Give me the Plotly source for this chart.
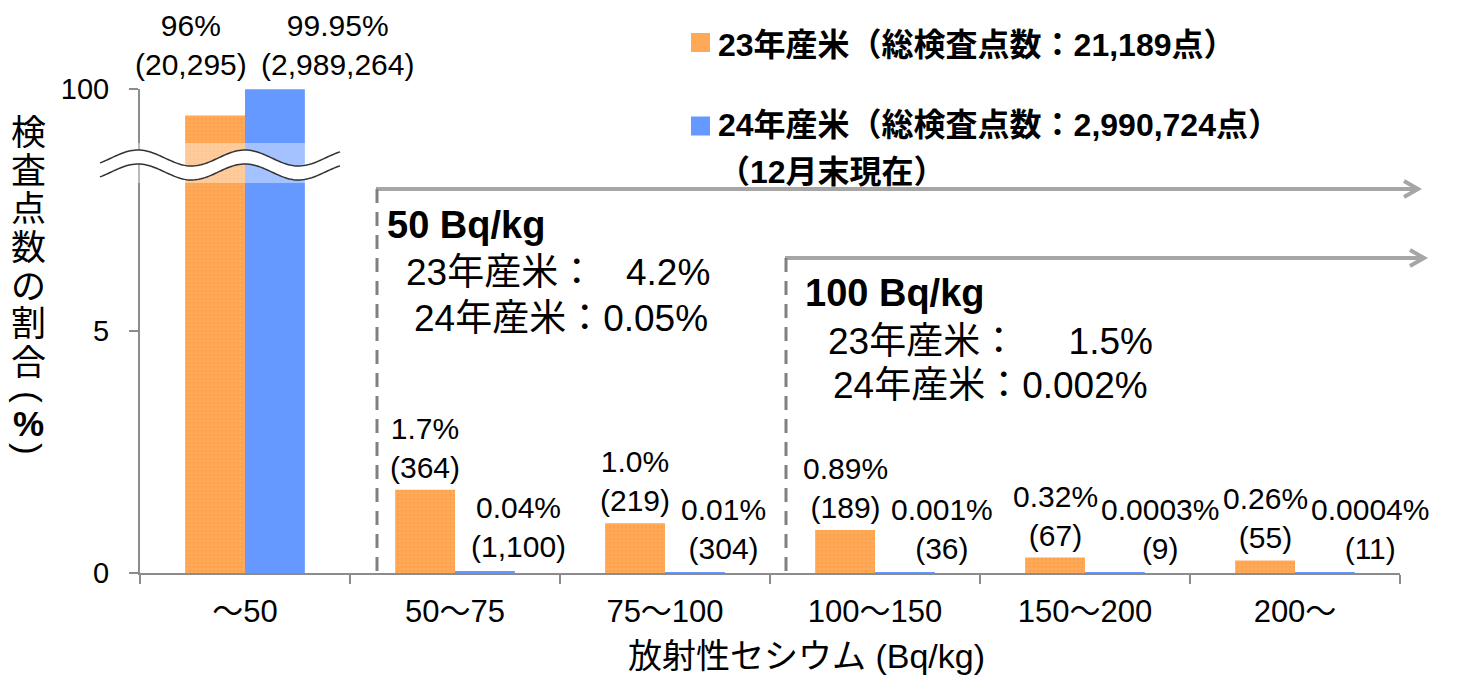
import numpy as np
import plotly.graph_objects as go

# ---------------- data ----------------
categories = ["～50", "50～75", "75～100", "100～150", "150～200", "200～"]
rice23_pct = [95.8, 1.72, 1.03, 0.89, 0.32, 0.26]
rice24_pct = [99.95, 0.04, 0.01, 0.001, 0.0003, 0.0004]
rice23_text = ["96%", "1.7%", "1.0%", "0.89%", "0.32%", "0.26%"]
rice23_counts = ["20,295", "364", "219", "189", "67", "55"]
rice24_text = ["99.95%", "0.04%", "0.01%", "0.001%", "0.0003%", "0.0004%"]
rice24_counts = ["2,989,264", "1,100", "304", "36", "9", "11"]
y_ticks = [0, 5, 100]
series_names = ["23年産米（総検査点数：21,189点）", "24年産米（総検査点数：2,990,724点）"]
legend_note = "（12月末現在）"
x_title = "放射性セシウム (Bq/kg)"
y_title_chars = ["検", "査", "点", "数", "の", "割", "合", "(", "<b>%</b>", ")"]
NB = "\u00a0"
limit50 = ["<b>50 Bq/kg</b>", "23年産米：" + NB * 3 + "4.2%", "24年産米：0.05%"]
limit100 = ["<b>100 Bq/kg</b>", "23年産米：" + NB * 5 + "1.5%", "24年産米：0.002%"]

# ---------------- broken-axis scale ----------------
BREAK = 5.0          # axis is linear from 0 to 5
TOP_POS = 10.0       # 100 % is drawn at axis position 10
UPPER_K = 0.13       # axis units per % above the break


def to_axis(v):
    return v if v <= BREAK else TOP_POS - (100.0 - v) * UPPER_K


FONT = "Liberation Sans, Noto Sans CJK JP, sans-serif"
ORANGE = "#FFA957"
BLUE = "#6699FF"
GRAY = "#8C8C8C"

# page has an 8px body margin: figure is drawn 8px right/down
OFF = 8
W, H = 1464 - OFF, 678 - OFF
PL, PT, PR, PB = 140, 89, 1400, 573          # plot area in page pixels
ML, MT = PL - OFF, PT - OFF
MR, MB = (W + OFF) - PR, (H + OFF) - PB
PW, PH = PR - PL, PB - PT


def px(x):
    return (x - PL) / PW


def py(y):
    return (PB - y) / PH


fig = go.Figure()
fig.add_trace(go.Bar(
    x=categories, y=[to_axis(v) for v in rice23_pct], name=series_names[0],
    marker=dict(color=ORANGE, line=dict(width=0),
                pattern=dict(shape=".", fgcolor="#F59A48", size=4, solidity=0.25)),
    showlegend=False))
fig.add_trace(go.Bar(
    x=categories, y=[to_axis(v) for v in rice24_pct], name=series_names[1],
    marker=dict(color=BLUE, line=dict(width=0)), showlegend=False))

annotations = []
shapes = []
LBL = dict(family=FONT, size=30, color="black")

# bar value labels
for i, c in enumerate(categories):
    y23 = to_axis(rice23_pct[i])
    y24 = to_axis(rice24_pct[i])
    if rice23_pct[i] > BREAK:
        annotations.append(dict(x=c, y=max(y23, y24), xref="x", yref="y", xanchor="right",
                                yanchor="bottom", xshift=4, yshift=6, showarrow=False,
                                text=f"{rice23_text[i]}<br>({rice23_counts[i]})", font=LBL))
    else:
        annotations.append(dict(x=c, y=y23, xref="x", yref="y", xanchor="center",
                                yanchor="bottom", xshift=-30, yshift=4, showarrow=False,
                                text=f"{rice23_text[i]}<br>({rice23_counts[i]})", font=LBL))
    annotations.append(dict(x=c, y=y24, xref="x", yref="y", xanchor="left",
                            yanchor="bottom", xshift=14, yshift=6, showarrow=False,
                            text=f"{rice24_text[i]}<br>({rice24_counts[i]})", font=LBL))

# axis break (wavy band)
xs = np.linspace(100, 340, 120)
mid = 165 - 8 * np.cos(2 * np.pi * (xs - 245) / 107)
top = mid - 7
bot = mid + 7
shapes.append(dict(type="rect", xref="paper", yref="paper", x0=px(138), x1=px(306),
                   y0=py(183), y1=py(143), fillcolor="white", opacity=0.4, line=dict(width=0)))
fill_path = "M " + " L ".join(f"{px(a):.5f},{py(b):.5f}" for a, b in zip(xs, top))
fill_path += " L " + " L ".join(f"{px(a):.5f},{py(b):.5f}" for a, b in zip(xs[::-1], bot[::-1])) + " Z"
shapes.append(dict(type="path", xref="paper", yref="paper", path=fill_path,
                   fillcolor="white", line=dict(width=0)))
for curve in (top, bot):
    p = "M " + " L ".join(f"{px(a):.5f},{py(b):.5f}" for a, b in zip(xs, curve))
    shapes.append(dict(type="path", xref="paper", yref="paper", path=p,
                       line=dict(color="#333333", width=1.5)))

# threshold arrows
ARROW = "#A6A6A6"
for (x0, yline, x1) in [(376, 189, 1417), (785, 258, 1423)]:
    shapes.append(dict(type="line", xref="paper", yref="paper", x0=px(x0), x1=px(x1),
                       y0=py(yline), y1=py(yline), line=dict(color=ARROW, width=4)))
    shapes.append(dict(type="path", xref="paper", yref="paper",
                       path=f"M {px(x1-13)},{py(yline-8)} L {px(x1+1)},{py(yline)} L {px(x1-13)},{py(yline+8)}",
                       line=dict(color=ARROW, width=4)))
    shapes.append(dict(type="line", xref="paper", yref="paper", x0=px(x0 + 1), x1=px(x0 + 1),
                       y0=py(yline), y1=py(573), line=dict(color="#808080", width=3, dash="14px,9px")))

# threshold text blocks: title left-anchored, value lines right-anchored
blocks = [(limit50, (385, 225), [(712, 272), (710, 318)]),
          (limit100, (803, 293), [(1155, 341), (1150, 385)])]
for texts, (tx, ty), spots in blocks:
    annotations.append(dict(x=px(tx), y=py(ty), xref="paper", yref="paper",
                            xanchor="left", yanchor="middle", showarrow=False, text=texts[0],
                            font=dict(family=FONT, size=38, color="black")))
    for t, (ax, ay) in zip(texts[1:], spots):
        annotations.append(dict(x=px(ax), y=py(ay), xref="paper", yref="paper",
                                xanchor="right", yanchor="middle", showarrow=False, text=t,
                                font=dict(family=FONT, size=37, color="black")))

# legend (drawn)
for k, (col, ycen, tcen) in enumerate([(ORANGE, 42.5, 45), (BLUE, 126, 125)]):
    shapes.append(dict(type="rect", xref="paper", yref="paper", x0=px(691), x1=px(710),
                       y0=py(ycen + 9.5), y1=py(ycen - 9.5), fillcolor=col, line=dict(width=0)))
    annotations.append(dict(x=px(716), y=py(tcen), xref="paper", yref="paper", xanchor="left",
                            yanchor="middle", showarrow=False, text=f"<b>{series_names[k]}</b>",
                            font=dict(family=FONT, size=32, color="black")))
annotations.append(dict(x=px(716), y=py(172), xref="paper", yref="paper", xanchor="left",
                        yanchor="middle", showarrow=False, text=f"<b>{legend_note}</b>",
                        font=dict(family=FONT, size=32, color="black")))

# y-axis title (stacked vertically; brackets turned sideways)
y_centres = [132, 170, 208, 247, 286, 323, 362, 397, 423, 449]
for ch, yc in zip(y_title_chars, y_centres):
    annotations.append(dict(x=px(29), y=py(yc), xref="paper", yref="paper", xanchor="center",
                            yanchor="middle", showarrow=False, text=ch,
                            textangle=90 if ch in ("(", ")") else 0,
                            font=dict(family=FONT, size=35, color="black")))

# x-axis title
annotations.append(dict(x=px(806), y=py(656), xref="paper", yref="paper", xanchor="center",
                        yanchor="middle", showarrow=False, text=x_title,
                        font=dict(family=FONT, size=34, color="black")))

fig.update_layout(
    width=W, height=H,
    margin=dict(l=ML, r=MR, t=MT, b=MB, pad=0),
    paper_bgcolor="white", plot_bgcolor="white",
    barmode="group", bargap=0.43, bargroupgap=0,
    font=dict(family=FONT, size=28, color="black"),
    annotations=annotations, shapes=shapes,
    xaxis=dict(range=[-0.5, len(categories) - 0.5], autorange=False,
               showline=True, linecolor=GRAY, linewidth=2, ticks="outside", tickson="boundaries",
               ticklen=9, tickcolor=GRAY, tickwidth=1.5, showgrid=False, automargin=False,
               tickfont=dict(family=FONT, size=31, color="black"), ticklabelstandoff=10),
    yaxis=dict(range=[0, TOP_POS], autorange=False, tickvals=[to_axis(t) for t in y_ticks],
               ticktext=[str(t) for t in y_ticks], showline=True, linecolor=GRAY, linewidth=2,
               ticks="outside", ticklen=9, tickcolor=GRAY, tickwidth=1.5, showgrid=False,
               zeroline=False, automargin=False,
               tickfont=dict(family=FONT, size=29, color="black"), ticklabelstandoff=14),
)

fig.write_html("out.html")
